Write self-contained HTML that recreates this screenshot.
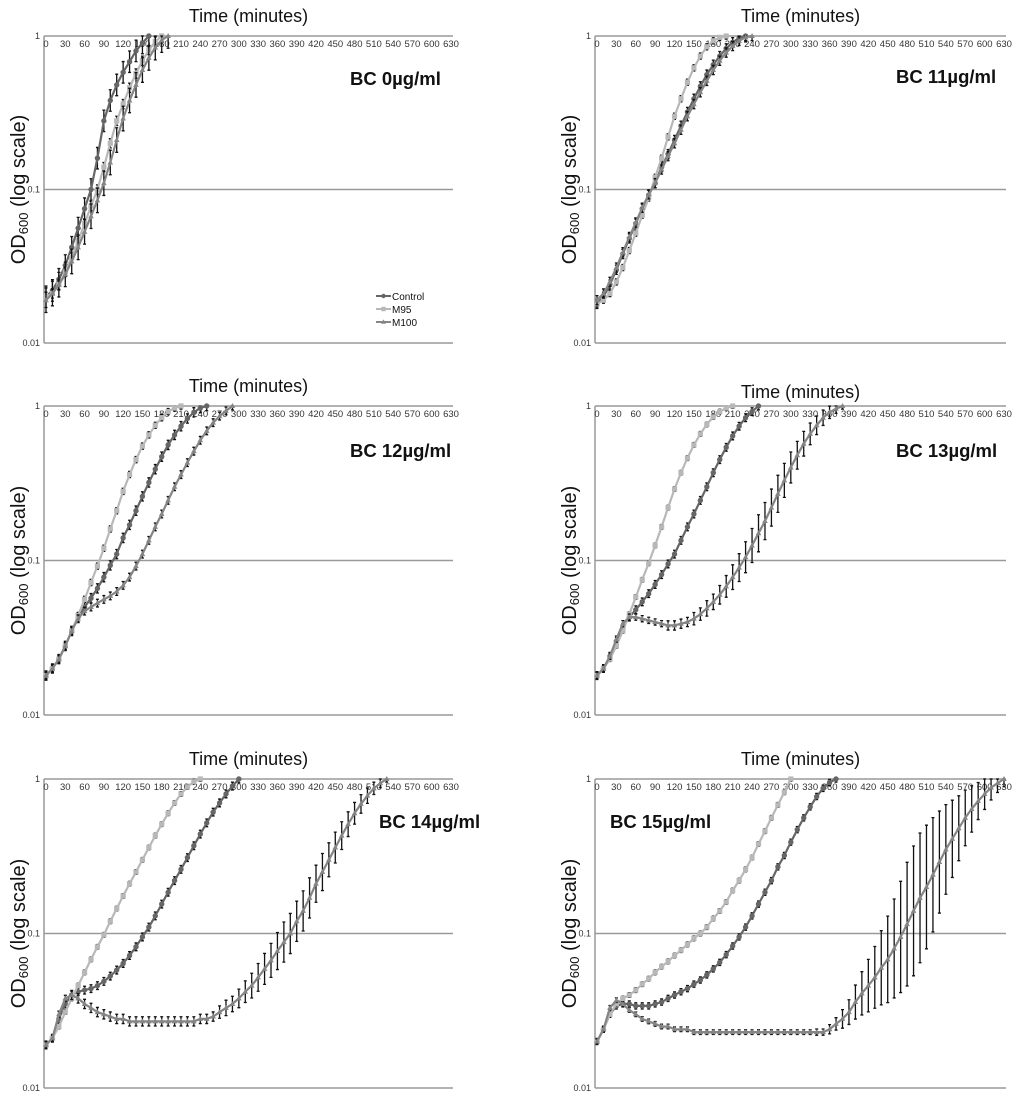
<!DOCTYPE html>
<html><head><meta charset="utf-8"><style>
html,body{margin:0;padding:0;background:#fff;}
svg{display:block;font-family:"Liberation Sans",Arial,sans-serif;}
</style></head><body>
<svg id="chart" width="1024" height="1099" viewBox="0 0 1024 1099"></svg>
<script>
// Time step (minutes) between consecutive samples
const timeStep = 10;
const xTickLabels = [0,30,60,90,120,150,180,210,240,270,300,330,360,390,420,450,480,510,540,570,600,630];
const yTickValues = [1,0.1,0.01];
const yTickLabels = ["1","0.1","0.01"];
const seriesNames = ["Control","M95","M100"];
const panelTitles = ["BC 0µg/ml","BC 11µg/ml","BC 12µg/ml","BC 13µg/ml","BC 14µg/ml","BC 15µg/ml"];

// Panel 1 (BC 0)
const p1Control = [0.020,0.022,0.026,0.032,0.042,0.056,0.075,0.10,0.16,0.28,0.38,0.48,0.58,0.68,0.80,0.90,1.0];
const p1M95 = [0.020,0.021,0.024,0.029,0.036,0.046,0.060,0.078,0.10,0.14,0.20,0.28,0.36,0.46,0.57,0.69,0.81,0.92,1.0];
const p1M100 = [0.019,0.021,0.024,0.028,0.034,0.042,0.053,0.067,0.085,0.11,0.15,0.21,0.29,0.38,0.48,0.60,0.72,0.84,0.94,1.0];
// Panel 2 (BC 11)
const p2Control = [0.018,0.020,0.024,0.030,0.038,0.048,0.060,0.075,0.092,0.11,0.14,0.17,0.21,0.26,0.32,0.39,0.47,0.56,0.65,0.74,0.83,0.91,0.97,1.0];
const p2M95 = [0.018,0.019,0.021,0.025,0.031,0.040,0.052,0.068,0.088,0.12,0.16,0.22,0.30,0.39,0.50,0.62,0.74,0.85,0.93,0.98,1.0];
const p2M100 = [0.019,0.021,0.025,0.031,0.039,0.049,0.061,0.076,0.093,0.11,0.135,0.165,0.20,0.245,0.30,0.36,0.43,0.51,0.60,0.69,0.78,0.86,0.93,0.98,1.0];
// Panel 3 (BC 12)
const p3Control = [0.018,0.020,0.023,0.028,0.035,0.043,0.050,0.057,0.066,0.078,0.093,0.11,0.14,0.17,0.21,0.26,0.32,0.39,0.47,0.56,0.65,0.74,0.83,0.91,0.97,1.0];
const p3M95 = [0.018,0.020,0.023,0.028,0.035,0.044,0.056,0.072,0.092,0.12,0.16,0.21,0.28,0.36,0.45,0.55,0.65,0.75,0.84,0.92,0.97,1.0];
const p3M100 = [0.018,0.020,0.023,0.028,0.035,0.042,0.047,0.050,0.053,0.056,0.059,0.063,0.069,0.078,0.092,0.11,0.135,0.165,0.20,0.245,0.30,0.36,0.43,0.51,0.60,0.69,0.78,0.86,0.93,1.0];
// Panel 4 (BC 13)
const p4Control = [0.018,0.020,0.024,0.030,0.037,0.043,0.048,0.054,0.061,0.070,0.081,0.095,0.11,0.135,0.165,0.20,0.245,0.30,0.37,0.45,0.54,0.64,0.74,0.84,0.92,1.0];
const p4M95 = [0.018,0.020,0.023,0.028,0.035,0.045,0.058,0.075,0.096,0.125,0.165,0.22,0.29,0.37,0.46,0.56,0.66,0.76,0.85,0.92,0.97,1.0];
const p4M100 = [0.018,0.020,0.024,0.031,0.039,0.043,0.043,0.042,0.041,0.040,0.039,0.038,0.038,0.039,0.040,0.042,0.045,0.049,0.054,0.060,0.068,0.078,0.090,0.105,0.125,0.15,0.18,0.22,0.27,0.33,0.40,0.48,0.57,0.66,0.75,0.84,0.91,0.96,1.0];
const p4M100Err = [0.02,0.02,0.02,0.02,0.02,0.02,0.02,0.02,0.02,0.02,0.02,0.03,0.03,0.03,0.03,0.04,0.04,0.05,0.05,0.06,0.07,0.08,0.09,0.10,0.11,0.12,0.12,0.12,0.12,0.11,0.10,0.09,0.08,0.07,0.06,0.05,0.04,0.03,0.02];
// Panel 5 (BC 14)
const p5Control = [0.019,0.021,0.028,0.035,0.040,0.042,0.043,0.044,0.046,0.049,0.053,0.058,0.064,0.072,0.082,0.095,0.11,0.13,0.155,0.185,0.22,0.26,0.31,0.37,0.44,0.52,0.61,0.70,0.80,0.90,1.0];
const p5M95 = [0.019,0.021,0.025,0.031,0.038,0.046,0.056,0.068,0.082,0.098,0.12,0.145,0.175,0.21,0.25,0.30,0.36,0.43,0.51,0.60,0.70,0.80,0.89,0.96,1.0];
const p5M100 = [0.019,0.021,0.030,0.038,0.040,0.038,0.035,0.033,0.031,0.030,0.029,0.028,0.028,0.027,0.027,0.027,0.027,0.027,0.027,0.027,0.027,0.027,0.027,0.027,0.028,0.028,0.029,0.031,0.033,0.035,0.038,0.042,0.046,0.052,0.059,0.067,0.077,0.088,0.10,0.12,0.14,0.17,0.21,0.25,0.30,0.36,0.43,0.51,0.60,0.69,0.78,0.87,0.94,1.0];
const p5M100Err = [0.02,0.02,0.02,0.02,0.03,0.03,0.03,0.03,0.03,0.03,0.03,0.03,0.03,0.03,0.03,0.03,0.03,0.03,0.03,0.03,0.03,0.03,0.03,0.03,0.03,0.03,0.03,0.04,0.05,0.05,0.06,0.07,0.08,0.09,0.10,0.11,0.12,0.13,0.13,0.13,0.13,0.13,0.12,0.12,0.11,0.10,0.09,0.08,0.07,0.06,0.05,0.04,0.03,0.02];
// Panel 6 (BC 15)
const p6Control = [0.020,0.024,0.030,0.034,0.035,0.035,0.034,0.034,0.034,0.035,0.036,0.038,0.040,0.042,0.044,0.047,0.050,0.054,0.059,0.065,0.073,0.083,0.095,0.11,0.13,0.155,0.185,0.22,0.27,0.32,0.39,0.47,0.56,0.66,0.77,0.87,0.95,1.0];
const p6M95 = [0.020,0.024,0.030,0.035,0.038,0.040,0.043,0.047,0.051,0.056,0.061,0.066,0.072,0.078,0.085,0.093,0.10,0.11,0.125,0.14,0.16,0.19,0.22,0.26,0.31,0.38,0.46,0.56,0.68,0.82,1.0];
const p6M100 = [0.020,0.024,0.033,0.037,0.035,0.032,0.030,0.028,0.027,0.026,0.025,0.025,0.024,0.024,0.024,0.023,0.023,0.023,0.023,0.023,0.023,0.023,0.023,0.023,0.023,0.023,0.023,0.023,0.023,0.023,0.023,0.023,0.023,0.023,0.023,0.023,0.024,0.026,0.028,0.031,0.036,0.041,0.046,0.052,0.060,0.068,0.080,0.095,0.115,0.14,0.17,0.20,0.24,0.29,0.35,0.41,0.48,0.56,0.64,0.72,0.80,0.88,0.94,1.0];
const p6M100Err = [0.015,0.015,0.015,0.015,0.015,0.015,0.015,0.015,0.015,0.015,0.015,0.015,0.015,0.015,0.015,0.015,0.015,0.015,0.015,0.015,0.015,0.015,0.015,0.015,0.015,0.015,0.015,0.015,0.015,0.015,0.015,0.015,0.015,0.015,0.02,0.02,0.03,0.04,0.06,0.08,0.11,0.14,0.17,0.20,0.24,0.28,0.32,0.36,0.40,0.42,0.42,0.40,0.37,0.33,0.29,0.25,0.21,0.18,0.15,0.12,0.10,0.08,0.06,0.05];

const panelData = [
  [p1Control,p1M95,p1M100],[p2Control,p2M95,p2M100],[p3Control,p3M95,p3M100],
  [p4Control,p4M95,p4M100],[p5Control,p5M95,p5M100],[p6Control,p6M95,p6M100]];
const panelErr = [
  [0.07,0.03,0.08],[0.03,0.02,0.03],[0.03,0.02,0.025],
  [0.025,0.015,p4M100Err],[0.025,0.015,p5M100Err],[0.02,0.015,p6M100Err]];

const NS = "http://www.w3.org/2000/svg";
const svg = document.getElementById('chart');
function mk(tag, attrs, parent){ const e=document.createElementNS(NS,tag); for(const k in attrs) e.setAttribute(k,attrs[k]); (parent||svg).appendChild(e); return e; }

const colX = [[44,453],[595,1006]];
const rowY = [[36,343],[406,715],[779,1088]];
const colors = ["#666666","#b8b8b8","#858585"];
const titlePos = [[350,85],[896,83],[350,457],[896,457],[379,828],[610,828]];

panelTitles.forEach((title, p) => {
  const col = p % 2, row = Math.floor(p/2);
  const [x0,x1] = colX[col], [y0,y1] = rowY[row];
  const xs = t => x0 + 2 + t/630*(x1-x0-4);
  const ys = v => y0 + (-Math.log10(v))/2*(y1-y0);
  const g = mk('g',{});
  
  
  const top = mk('line',{x1:x0,y1:y0,x2:x1,y2:y0,stroke:'#999','stroke-width':1.5},g);
   
  const left = mk('line',{x1:x0,y1:y0,x2:x0,y2:y1,stroke:'#999','stroke-width':1.5},g);
   
  const bot = mk('line',{x1:x0,y1:y1,x2:x1,y2:y1,stroke:'#999','stroke-width':1.5},g);
   
  const mid = mk('line',{x1:x0,y1:ys(0.1),x2:x1,y2:ys(0.1),stroke:'#999','stroke-width':1.5},g);
   
  yTickValues.forEach((v,i)=>{
    const t = mk('text',{x:x0-4,y:ys(v)+3,'font-size':9,'text-anchor':'end',fill:'#333'},g);
    t.textContent = yTickLabels[i];
     
  });
  xTickLabels.forEach(v=>{
    const t = mk('text',{x:xs(v),y:y0+11,'font-size':9.5,'text-anchor':'middle',fill:'#333'},g);
    t.textContent = v;
     
  });
  const xt = mk('text',{x:(x0+x1)/2,y:y0-14+(row===1&&col===1?6:0),'font-size':18,'text-anchor':'middle',fill:'#111'},g);
  xt.textContent = 'Time (minutes)';
   
  const yc = (y0+y1)/2;
  const yt = mk('text',{x:x0-19,y:yc,'font-size':20,'text-anchor':'middle',fill:'#111',transform:`rotate(-90 ${x0-19} ${yc})`},g);
  yt.innerHTML = 'OD<tspan font-size="13" dy="3">600</tspan><tspan dy="-3"> (log scale)</tspan>';
   
  const pt = mk('text',{x:titlePos[p][0],y:titlePos[p][1],'font-size':18.5,'font-weight':'bold',fill:'#111'},g);
  pt.textContent = title;
   
  panelData[p].forEach((vals, s) => {
    const sg = mk('g',{},g);
    
    
    const err = panelErr[p][s];
    vals.forEach((v,i)=>{
      const e = Array.isArray(err) ? err[i] : err;
      const x = xs(i*timeStep);
      const lo = Math.min(2, -Math.log10(v)+e), hi = Math.max(0, -Math.log10(v)-e);
      const ya = y0 + lo/2*(y1-y0), yb = y0 + hi/2*(y1-y0);
      const eb = mk('path',{d:`M${x},${ya}V${yb}M${x-1.5},${ya}h3M${x-1.5},${yb}h3`,stroke:'#111','stroke-width':1.3,fill:'none'},sg);
       
    });
    const d = vals.map((v,i)=>(i?'L':'M')+xs(i*timeStep).toFixed(1)+','+ys(v).toFixed(1)).join('');
    const line = mk('path',{d,stroke:colors[s],'stroke-width':2.2,fill:'none','stroke-linejoin':'round'},sg);
     
    vals.forEach((v,i)=>{
      const x = xs(i*timeStep), y = ys(v);
      let m;
      if(s===0) m = mk('circle',{cx:x,cy:y,r:2.7,fill:colors[0]},sg);
      else if(s===1) m = mk('rect',{x:x-2.6,y:y-2.6,width:5.2,height:5.2,fill:colors[1]},sg);
      else m = mk('path',{d:`M${x},${y-3}L${x+2.8},${y+2}L${x-2.8},${y+2}Z`,fill:colors[2]},sg);
       
    });
  });
});

const lg = mk('g',{});
 
seriesNames.forEach((n,i)=>{
  const y = 296 + i*13;
  const e = mk('g',{},lg);
   
  mk('line',{x1:376,y1:y,x2:391,y2:y,stroke:colors[i],'stroke-width':2},e);
  if(i===0) mk('circle',{cx:383.5,cy:y,r:2.2,fill:colors[0]},e);
  else if(i===1) mk('rect',{x:381.3,y:y-2.2,width:4.4,height:4.4,fill:colors[1]},e);
  else mk('path',{d:`M383.5,${y-2.6}L385.9,${y+1.8}L381.1,${y+1.8}Z`,fill:colors[2]},e);
  const t = mk('text',{x:392,y:y+4,'font-size':10,fill:'#111'},e);
  t.textContent = n;
});
</script>
</body></html>
